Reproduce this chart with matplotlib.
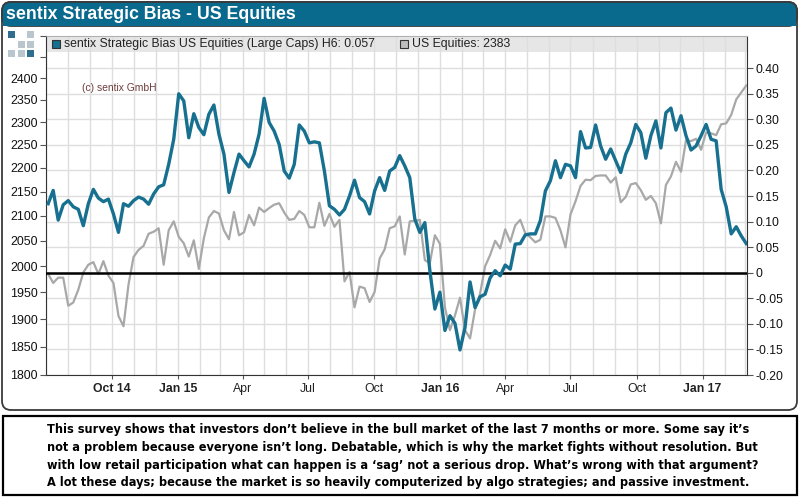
import numpy as np
import pandas as pd
import matplotlib
matplotlib.use('Agg')
import matplotlib.pyplot as plt
from matplotlib import font_manager
from matplotlib.patches import Rectangle, FancyBboxPatch
from matplotlib.ticker import FixedLocator, FixedFormatter, NullLocator, NullFormatter
import matplotlib.dates as mdates

plt.rcParams['font.family'] = ['Liberation Sans', 'DejaVu Sans']

# weekly observations (Fridays) from Jul 2014 to Mar 2017
first_week = '2014-07-04'

# sentix Strategic Bias US Equities (Large Caps), right axis
bias = [
    0.135, 0.161, 0.103, 0.133, 0.141, 0.129, 0.124, 0.092, 0.135, 0.163,
    0.146, 0.139, 0.144, 0.115, 0.079, 0.135, 0.130, 0.141, 0.148, 0.144,
    0.134, 0.154, 0.168, 0.172, 0.212, 0.261, 0.350, 0.336, 0.264, 0.311,
    0.284, 0.270, 0.310, 0.328, 0.271, 0.232, 0.157, 0.196, 0.232, 0.219,
    0.207, 0.232, 0.271, 0.341, 0.294, 0.277, 0.251, 0.199, 0.185, 0.212,
    0.289, 0.277, 0.254, 0.256, 0.254, 0.199, 0.131, 0.124, 0.113, 0.124,
    0.150, 0.181, 0.147, 0.139, 0.115, 0.160, 0.186, 0.161, 0.199, 0.206,
    0.229, 0.209, 0.186, 0.105, 0.079, 0.098, 0.004, -0.071, -0.038, -0.113,
    -0.084, -0.099, -0.151, -0.107, -0.018, -0.068, -0.047, -0.042, -0.010, 0.004,
    -0.006, 0.015, 0.007, 0.056, 0.057, 0.074, 0.076, 0.076, 0.102, 0.160,
    0.180, 0.219, 0.186, 0.212, 0.209, 0.186, 0.276, 0.244, 0.245, 0.289,
    0.248, 0.222, 0.242, 0.219, 0.196, 0.232, 0.254, 0.290, 0.274, 0.224,
    0.268, 0.297, 0.244, 0.313, 0.322, 0.279, 0.307, 0.268, 0.240, 0.248,
    0.268, 0.290, 0.261, 0.258, 0.163, 0.129, 0.076, 0.090, 0.072, 0.057,
]

# US Equities index level, left (log) axis
equities = [
    1985, 1968, 1978, 1978, 1925, 1931, 1955, 1988, 2003, 2008,
    1985, 2010, 1982, 1968, 1906, 1887, 1965, 2018, 2032, 2040,
    2064, 2068, 2075, 2003, 2071, 2089, 2058, 2045, 2019, 2051,
    1995, 2055, 2097, 2110, 2105, 2071, 2053, 2108, 2061, 2067,
    2102, 2081, 2117, 2108, 2116, 2123, 2126, 2107, 2092, 2094,
    2110, 2102, 2077, 2077, 2127, 2080, 2104, 2078, 2092, 1971,
    1989, 1922, 1961, 1958, 1932, 1951, 2015, 2033, 2075, 2079,
    2099, 2023, 2089, 2090, 2092, 2012, 2006, 2061, 2044, 1922,
    1880, 1907, 1940, 1880, 1865, 1918, 1948, 2000, 2022, 2050,
    2035, 2073, 2048, 2081, 2092, 2065, 2057, 2047, 2052, 2099,
    2099, 2096, 2071, 2037, 2103, 2130, 2162, 2175, 2174, 2183,
    2184, 2184, 2169, 2180, 2128, 2139, 2165, 2168, 2153, 2133,
    2141, 2126, 2085, 2164, 2182, 2213, 2192, 2260, 2258, 2263,
    2239, 2277, 2275, 2271, 2295, 2297, 2316, 2351, 2367, 2383,
]

quarter_ticks = ['2014-10-01', '2015-01-01', '2015-04-01', '2015-07-01', '2015-10-01',
                 '2016-01-01', '2016-04-01', '2016-07-01', '2016-10-01', '2017-01-01']
quarter_labels = ['Oct 14', 'Jan 15', 'Apr', 'Jul', 'Oct', 'Jan 16', 'Apr', 'Jul', 'Oct', 'Jan 17']

left_ticks = list(range(1800, 2501, 50))
right_ticks = [-0.20, -0.15, -0.10, -0.05, 0.0, 0.05, 0.10, 0.15, 0.20, 0.25, 0.30, 0.35, 0.40]

title = 'sentix Strategic Bias - US Equities'
bias_label = 'sentix Strategic Bias US Equities (Large Caps) H6: 0.057'
equities_label = 'US Equities: 2383'
comment = [
    'This survey shows that investors don\u2019t believe in the bull market of the last 7 months or more. Some say it\u2019s',
    'not a problem because everyone isn\u2019t long. Debatable, which is why the market fights without resolution. But',
    'with low retail participation what can happen is a \u2018sag\u2019 not a serious drop. What\u2019s wrong with that argument?',
    'A lot these days; because the market is so heavily computerized by algo strategies; and passive investment.',
]

TEAL = '#0a6a8e'
BLUE = '#17708f'
GRAY = '#a8a8a8'
GRID = '#dedede'

dates = pd.date_range(first_week, periods=len(bias), freq='W-FRI')

names = {f.name for f in font_manager.fontManager.ttflist}
if 'Liberation Sans Narrow' in names:
    body_font = dict(family=['Liberation Sans Narrow', 'DejaVu Sans'], size=10.3)
else:
    body_font = dict(family=['DejaVu Sans'], stretch='condensed', size=9.1)

W, H = 800, 497
fig = plt.figure(figsize=(W / 100, H / 100), dpi=100)

# page furniture in pixel coordinates
deco = fig.add_axes([0, 0, 1, 1], zorder=-1)
deco.set_xlim(0, W)
deco.set_ylim(H, 0)
deco.axis('off')
deco.add_patch(FancyBboxPatch((2, 2), 795, 408, boxstyle='round,pad=0,rounding_size=9',
                              fc='white', ec='#3a3a3a', lw=1.3))
deco.add_patch(FancyBboxPatch((2, 2), 795, 24, boxstyle='round,pad=0,rounding_size=9',
                              fc=TEAL, ec='#3a3a3a', lw=1.3))
deco.add_patch(Rectangle((2.7, 15), 793.6, 11, fc=TEAL, ec='none'))
deco.text(6, 14.5, title, color='white', fontsize=12.8, fontweight='bold', va='center')

logo = [(0, 0, '#2f6e8e'), (2, 0, '#b9c6ce'), (1, 1, '#b9c6ce'), (2, 1, '#b9c6ce'),
        (0, 2, '#b9c6ce'), (1, 2, '#b9c6ce'), (2, 2, '#2f6e8e')]
for cx, cy, c in logo:
    deco.add_patch(Rectangle((8 + cx * 9.5, 31 + cy * 9.5), 7, 7, fc=c, ec='none'))

deco.add_patch(Rectangle((3, 415.5), 794, 79.5, fc='white', ec='black', lw=1.6))
for i, line in enumerate(comment):
    deco.text(47, 430 + i * 17.5, line, fontweight='bold', va='center', **body_font)

# chart axes: base carries the linear (right) scale and the grid
ax_px = (46, 36, 747, 375)
rect = [ax_px[0] / W, 1 - ax_px[3] / H, (ax_px[2] - ax_px[0]) / W, (ax_px[3] - ax_px[1]) / H]
base = fig.add_axes(rect)
ax_l = base.twinx()
ax_b = base.twinx()

x0, x1 = pd.Timestamp('2014-07-01'), pd.Timestamp('2017-03-04')
base.set_xlim(x0, x1)
base.set_ylim(-0.2, 0.463)
ax_b.set_ylim(-0.2, 0.463)

base.set_axisbelow(True)
base.yaxis.tick_right()
base.yaxis.set_major_locator(FixedLocator(right_ticks))
base.yaxis.set_major_formatter(FixedFormatter(['0' if v == 0 else f'{v:.2f}' for v in right_ticks]))
base.tick_params(axis='y', which='major', length=4, color='#555555', labelsize=8.7,
                 labelcolor='#111111', pad=2)
base.grid(axis='y', color=GRID, lw=1)

base.set_xticks(pd.to_datetime(quarter_ticks))
base.set_xticklabels(quarter_labels)
for lab in base.get_xticklabels():
    if ' ' in lab.get_text():
        lab.set_fontweight('bold')
base.xaxis.set_minor_locator(mdates.MonthLocator())
base.tick_params(axis='x', which='major', length=3, color='#555555', labelsize=8.8,
                 labelcolor='#222222', pad=3)
base.tick_params(axis='x', which='minor', length=0)
base.grid(axis='x', which='both', color=GRID, lw=1)

# legend band
band_h = 16 / (ax_px[3] - ax_px[1])
base.add_patch(Rectangle((0, 1 - band_h), 1, band_h, transform=base.transAxes,
                         fc='#e6e6e6', ec='none', zorder=0.2))
for sp in ['left', 'bottom', 'right']:
    base.spines[sp].set_color('#333333')
base.spines['top'].set_color('#b0b0b0')

# left log axis: equities
ax_l.set_yscale('log')
ax_l.set_ylim(1800, 2500)
ax_l.yaxis.tick_left()
ax_l.yaxis.set_major_locator(FixedLocator(left_ticks))
ax_l.yaxis.set_major_formatter(FixedFormatter([str(v) if v <= 2400 else '' for v in left_ticks]))
ax_l.yaxis.set_minor_locator(NullLocator())
ax_l.yaxis.set_minor_formatter(NullFormatter())
ax_l.tick_params(axis='y', length=4, color='#555555', labelsize=8.9, labelcolor='#111111', pad=2)
for sp in ax_l.spines.values():
    sp.set_visible(False)
ax_l.plot(dates, equities, color=GRAY, lw=1.6, solid_joinstyle='round')

# top axis: bias line and zero line
ax_b.yaxis.set_major_locator(NullLocator())
for sp in ax_b.spines.values():
    sp.set_visible(False)
ax_b.axhline(0, color='black', lw=1.8, zorder=2)
ax_b.plot(dates, bias, color=BLUE, lw=2.4, solid_joinstyle='round', zorder=3)

# legend entries and copyright
sq_w, sq_h = 8 / (ax_px[2] - ax_px[0]), 8 / (ax_px[3] - ax_px[1])
ly = 1 - 8 / (ax_px[3] - ax_px[1])
for px, fc, label in [(52, BLUE, bias_label), (400, '#bdbdbd', equities_label)]:
    xa = (px - ax_px[0]) / (ax_px[2] - ax_px[0])
    ax_b.add_patch(Rectangle((xa, ly - sq_h / 2), sq_w, sq_h, transform=ax_b.transAxes,
                             fc=fc, ec='#333333', lw=0.8, zorder=5))
    ax_b.text(xa + sq_w + 4 / (ax_px[2] - ax_px[0]), ly, label, transform=ax_b.transAxes,
              fontsize=8.8, color='#222222', va='center', zorder=5)

ax_b.text((82 - ax_px[0]) / (ax_px[2] - ax_px[0]), (ax_px[3] - 88) / (ax_px[3] - ax_px[1]),
          '(c) sentix GmbH', transform=ax_b.transAxes, fontsize=7.4, color='#6e3c3c',
          va='center', zorder=5)

fig.savefig('out.png', dpi=100)
